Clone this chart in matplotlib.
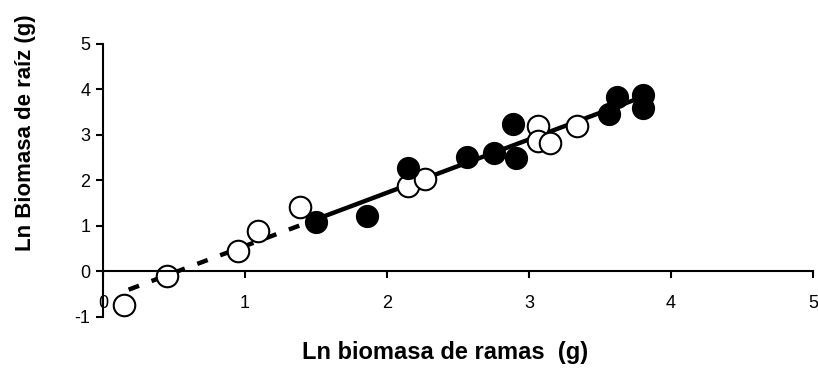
import matplotlib.pyplot as plt

plt.rcParams["font.family"] = ["Liberation Sans", "DejaVu Sans"]
plt.rcParams["axes.unicode_minus"] = False

# open circles
open_x = [0.15, 0.45, 0.95, 1.09, 1.39, 2.15, 2.27, 3.06, 3.06, 3.15, 3.34]
open_y = [-0.73, -0.09, 0.46, 0.88, 1.41, 1.87, 2.03, 3.20, 2.86, 2.82, 3.19]

# filled circles
filled_x = [1.50, 1.86, 2.15, 2.56, 2.75, 2.89, 2.91, 3.56, 3.62, 3.80, 3.80]
filled_y = [1.08, 1.21, 2.27, 2.51, 2.60, 3.24, 2.49, 3.46, 3.84, 3.88, 3.59]

# fitted line y = a + b x
fit_a = -0.61
fit_b = 1.17
dash_range = [0.18, 1.5]
solid_range = [1.5, 3.8]

xticks = [0, 1, 2, 3, 4, 5]
yticks = [-1, 0, 1, 2, 3, 4, 5]

fig = plt.figure(figsize=(8.18, 3.81), dpi=100)
ax = fig.add_axes([0.126, 0.168, 0.868, 0.717])

dx = dash_range
ax.plot(dx, [fit_a + fit_b * v for v in dx], color="black", lw=3.2,
        linestyle=(0, (2.5, 3)), zorder=1)
sx = solid_range
ax.plot(sx, [fit_a + fit_b * v for v in sx], color="black", lw=3.2, zorder=1)

ax.plot(filled_x, filled_y, "o", ms=15.5, mfc="black", mec="black",
        mew=1.2, zorder=3)
ax.plot(open_x, open_y, "o", ms=15.5, mfc="white", mec="black",
        mew=1.5, zorder=2)

ax.set_xlim(0, 5)
ax.set_ylim(-1, 5)
ax.set_xticks(xticks)
ax.set_yticks(yticks)

ax.spines["top"].set_visible(False)
ax.spines["right"].set_visible(False)
ax.spines["bottom"].set_position(("data", 0))
ax.spines["left"].set_linewidth(1.5)
ax.spines["bottom"].set_linewidth(1.5)

ax.tick_params(axis="y", direction="out", length=5, width=1.5,
               labelsize=13, pad=4)
ax.tick_params(axis="x", direction="out", length=5, width=1.5,
               labelsize=13, pad=12)

fig.text(0.031, 0.651, "Ln Biomasa de raíz (g)", fontsize=16,
         fontweight="bold", rotation=90, ha="center", va="center")
fig.text(0.544, 0.076, "Ln biomasa de ramas  (g)", fontsize=17,
         fontweight="bold", ha="center", va="center")

fig.savefig("out.png", dpi=100)
